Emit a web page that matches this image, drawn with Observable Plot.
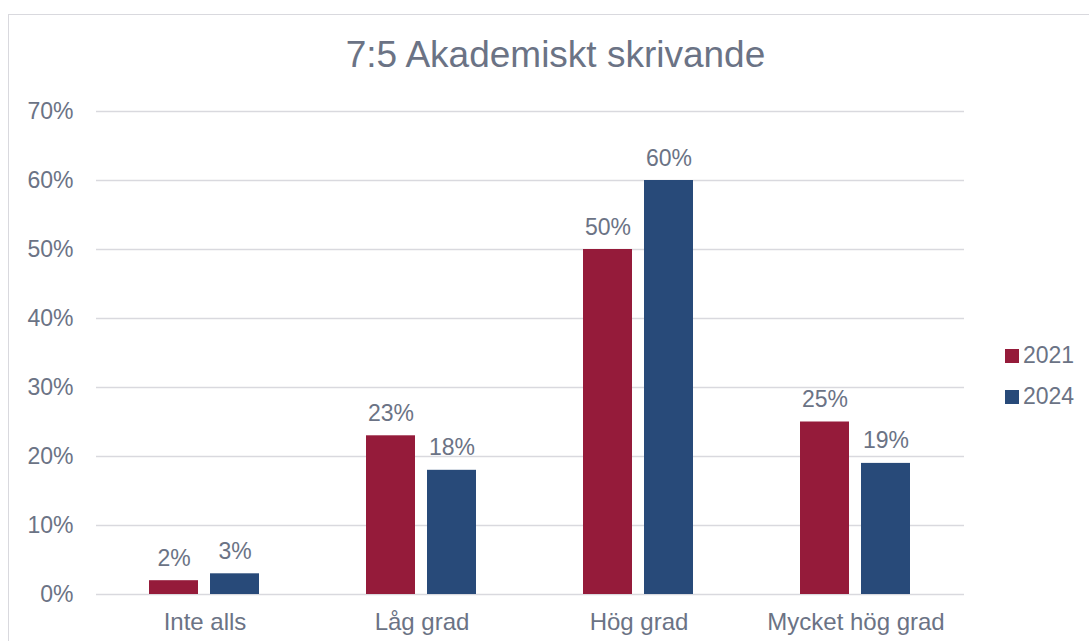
<!DOCTYPE html>
<html>
<head>
<meta charset="utf-8">
<script src="https://cdn.jsdelivr.net/npm/d3@7"></script>
<script src="https://cdn.jsdelivr.net/npm/@observablehq/plot@0.6"></script>
<style>
  body { margin: 0; background: #fff; font-family: "Liberation Sans", Arial, sans-serif; }
  #wrap { position: relative; width: 1089px; height: 641px; overflow: hidden; }
  #border { position: absolute; left: 8px; top: 14px; width: 1100px; height: 700px; border: 1px solid #d9d9de; box-sizing: border-box; }
  #title { position: absolute; left: 0; width: 1111px; top: 34px; text-align: center; font-size: 37px; line-height: 42px; color: #6b7385; }
  #legend { position: absolute; left: 1005px; top: 335px; font-size: 23px; color: #6b7385; }
  .li { display: flex; align-items: center; height: 41px; }
  .sw { width: 14px; height: 14px; margin-right: 4px; }
  #chart { position: absolute; left: 0; top: 0; }
</style>
</head>
<body>
<div id="wrap">
  <div id="border"></div>
  <div id="chart"></div>
  <div id="title">7:5 Akademiskt skrivande</div>
  <div id="legend"></div>
</div>
<script>
const categories = ["Inte alls", "Låg grad", "Hög grad", "Mycket hög grad"];
const years = ["2021", "2024"];
const values2021 = [2, 23, 50, 25];
const values2024 = [3, 18, 60, 19];
const colors = ["#951b3a", "#284a79"];
const yTicks = [0, 10, 20, 30, 40, 50, 60, 70];

const data = [];
categories.forEach((c, i) => {
  data.push({cat: c, year: years[0], v: values2021[i]});
  data.push({cat: c, year: years[1], v: values2024[i]});
});

const textColor = "#6b7385";
const chart = Plot.plot({
  width: 1089,
  height: 641,
  marginLeft: 95,
  marginRight: 124,
  marginTop: 111,
  marginBottom: 47,
  style: {fontFamily: "'Liberation Sans', Arial, sans-serif", fontSize: "23px", color: textColor, background: "transparent"},
  fx: {domain: categories, padding: 0, label: null, axis: null},
  x: {domain: years, paddingInner: 0.1935, paddingOuter: 0.85, axis: null},
  y: {domain: [0, 70], ticks: yTicks, tickFormat: d => d + "%", label: null, tickSize: 0, tickPadding: 23},
  color: {domain: years, range: colors},
  marks: [
    Plot.gridY(yTicks, {stroke: "#d9d9de", strokeOpacity: 1, strokeWidth: 1.5}),
    Plot.barY(data, {fx: "cat", x: "year", y: "v", fill: "year"}),
    Plot.text(data, {fx: "cat", x: "year", y: "v", text: d => d.v + "%", lineAnchor: "bottom", dy: -15, fill: textColor, fontSize: 23}),
    Plot.axisFx({anchor: "bottom", tickSize: 0, tickPadding: 18, fontSize: 24, label: null, fill: textColor})
  ]
});
document.getElementById("chart").appendChild(chart);

const legend = document.getElementById("legend");
years.forEach((y, i) => {
  const row = document.createElement("div");
  row.className = "li";
  row.innerHTML = `<div class="sw" style="background:${colors[i]}"></div><span>${y}</span>`;
  legend.appendChild(row);
});
</script>
</body>
</html>
